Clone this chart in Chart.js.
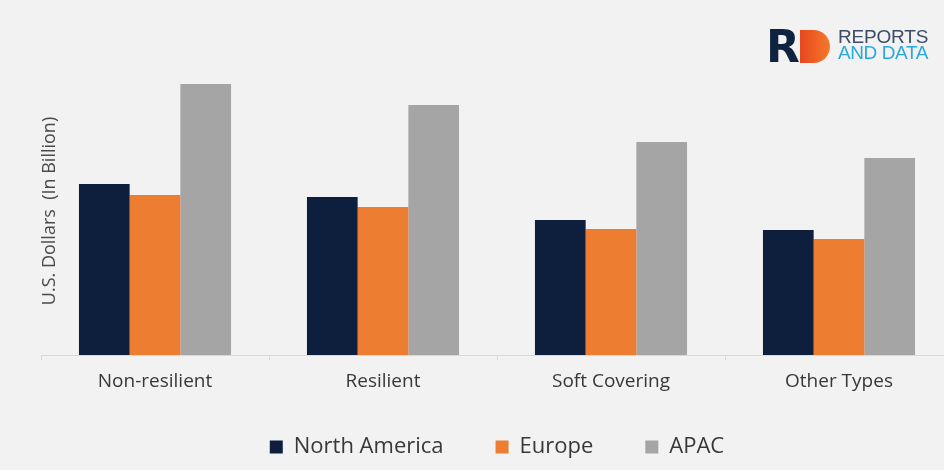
<!DOCTYPE html>
<html>
<head>
<meta charset="utf-8">
<script src="https://cdn.jsdelivr.net/npm/chart.js@4.4.0/dist/chart.umd.min.js"></script>
<style>
  html, body { margin: 0; padding: 0; background: #f2f2f2; }
  #frame { position: relative; width: 944px; height: 470px; overflow: hidden; background: #f2f2f2; }
  #plot { position: absolute; left: 0; top: 0; }
  .logo { position: absolute; left: 766px; top: 27px; width: 178px; height: 40px; }
  .logo .r { position: absolute; left: 0; top: -6px; font: 900 44px "DejaVu Sans", sans-serif; color: #0f2240; letter-spacing: -2px; }
  .logo .d { position: absolute; left: 34px; top: 3px; width: 30px; height: 33px; background: linear-gradient(90deg, #e8471f, #f4792a); border-radius: 0 17px 17px 0; }
  .logo .t1 { position: absolute; left: 72px; top: 1px; font: 19px "Liberation Sans Narrow", "Liberation Sans", sans-serif; color: #3c4b66; letter-spacing: -0.2px; line-height: 17px; }
  .logo .t2 { position: absolute; left: 72px; top: 17px; font: 19px "Liberation Sans Narrow", "Liberation Sans", sans-serif; color: #29a8de; letter-spacing: -0.4px; line-height: 17px; }
</style>
</head>
<body>
<div id="frame">
  <canvas id="plot" width="960" height="470"></canvas>
  <div class="logo">
    <div class="r">R</div>
    <div class="d"></div>
    <div class="t1">REPORTS</div>
    <div class="t2">AND DATA</div>
  </div>
</div>
<script>
// Flooring market by type and region (U.S. dollars, billion)
const categories = ["Non-resilient", "Resilient", "Soft Covering", "Other Types"];
const northAmerica = [17.1, 15.8, 13.5, 12.5];
const europe = [16.0, 14.8, 12.6, 11.6];
const apac = [27.1, 25.0, 21.3, 19.7];
const seriesNames = ["North America", "Europe", "APAC"];
const yAxisTitle = "U.S. Dollars  (In Billion)";

const colors = ["#0d1f3d", "#ed7d31", "#a5a5a5"];

// Rotated axis title drawn beside the plot area
const yTitlePlugin = {
  id: "yTitle",
  afterDraw(chart) {
    const ctx = chart.ctx;
    ctx.save();
    ctx.translate(50, 211);
    ctx.rotate(-Math.PI / 2);
    ctx.font = "18px 'Open Sans', sans-serif";
    ctx.fillStyle = "#4a4a4a";
    ctx.textAlign = "center";
    ctx.textBaseline = "middle";
    ctx.fillText(yAxisTitle, 0, 0);
    ctx.restore();
  }
};

// The x axis band is kept compact for layout; let its labels draw past it
const labelRoomPlugin = {
  id: "labelRoom",
  afterLayout(chart) {
    const x = chart.scales.x;
    x.bottom = x.top + 60;
  }
};

new Chart(document.getElementById("plot"), {
  type: "bar",
  data: {
    labels: categories,
    datasets: [
      { label: seriesNames[0], data: northAmerica, backgroundColor: colors[0] },
      { label: seriesNames[1], data: europe, backgroundColor: colors[1] },
      { label: seriesNames[2], data: apac, backgroundColor: colors[2] }
    ]
  },
  options: {
    responsive: false,
    animation: false,
    devicePixelRatio: 1,
    layout: { padding: { left: 41, right: 7, top: 55, bottom: 2 } },
    datasets: { bar: { categoryPercentage: 0.667, barPercentage: 1.0 } },
    scales: {
      x: {
        grid: { display: true, drawOnChartArea: false, offset: true, color: "#d9d9d9", tickLength: 5 },
        border: { display: true, color: "#d9d9d9", width: 1 },
        ticks: { color: "#383838", font: { family: "'Open Sans', sans-serif", size: 19 }, padding: 10 },
        afterFit(scale) { scale.height = 29; }
      },
      y: {
        display: false,
        min: 0,
        max: 30
      }
    },
    plugins: {
      legend: {
        position: "bottom",
        labels: {
          color: "#383838",
          font: { family: "'Open Sans', sans-serif", size: 22 },
          boxWidth: 13,
          boxHeight: 13,
          padding: 52
        }
      },
      tooltip: { enabled: false }
    }
  },
  plugins: [yTitlePlugin, labelRoomPlugin]
});
</script>
</body>
</html>
